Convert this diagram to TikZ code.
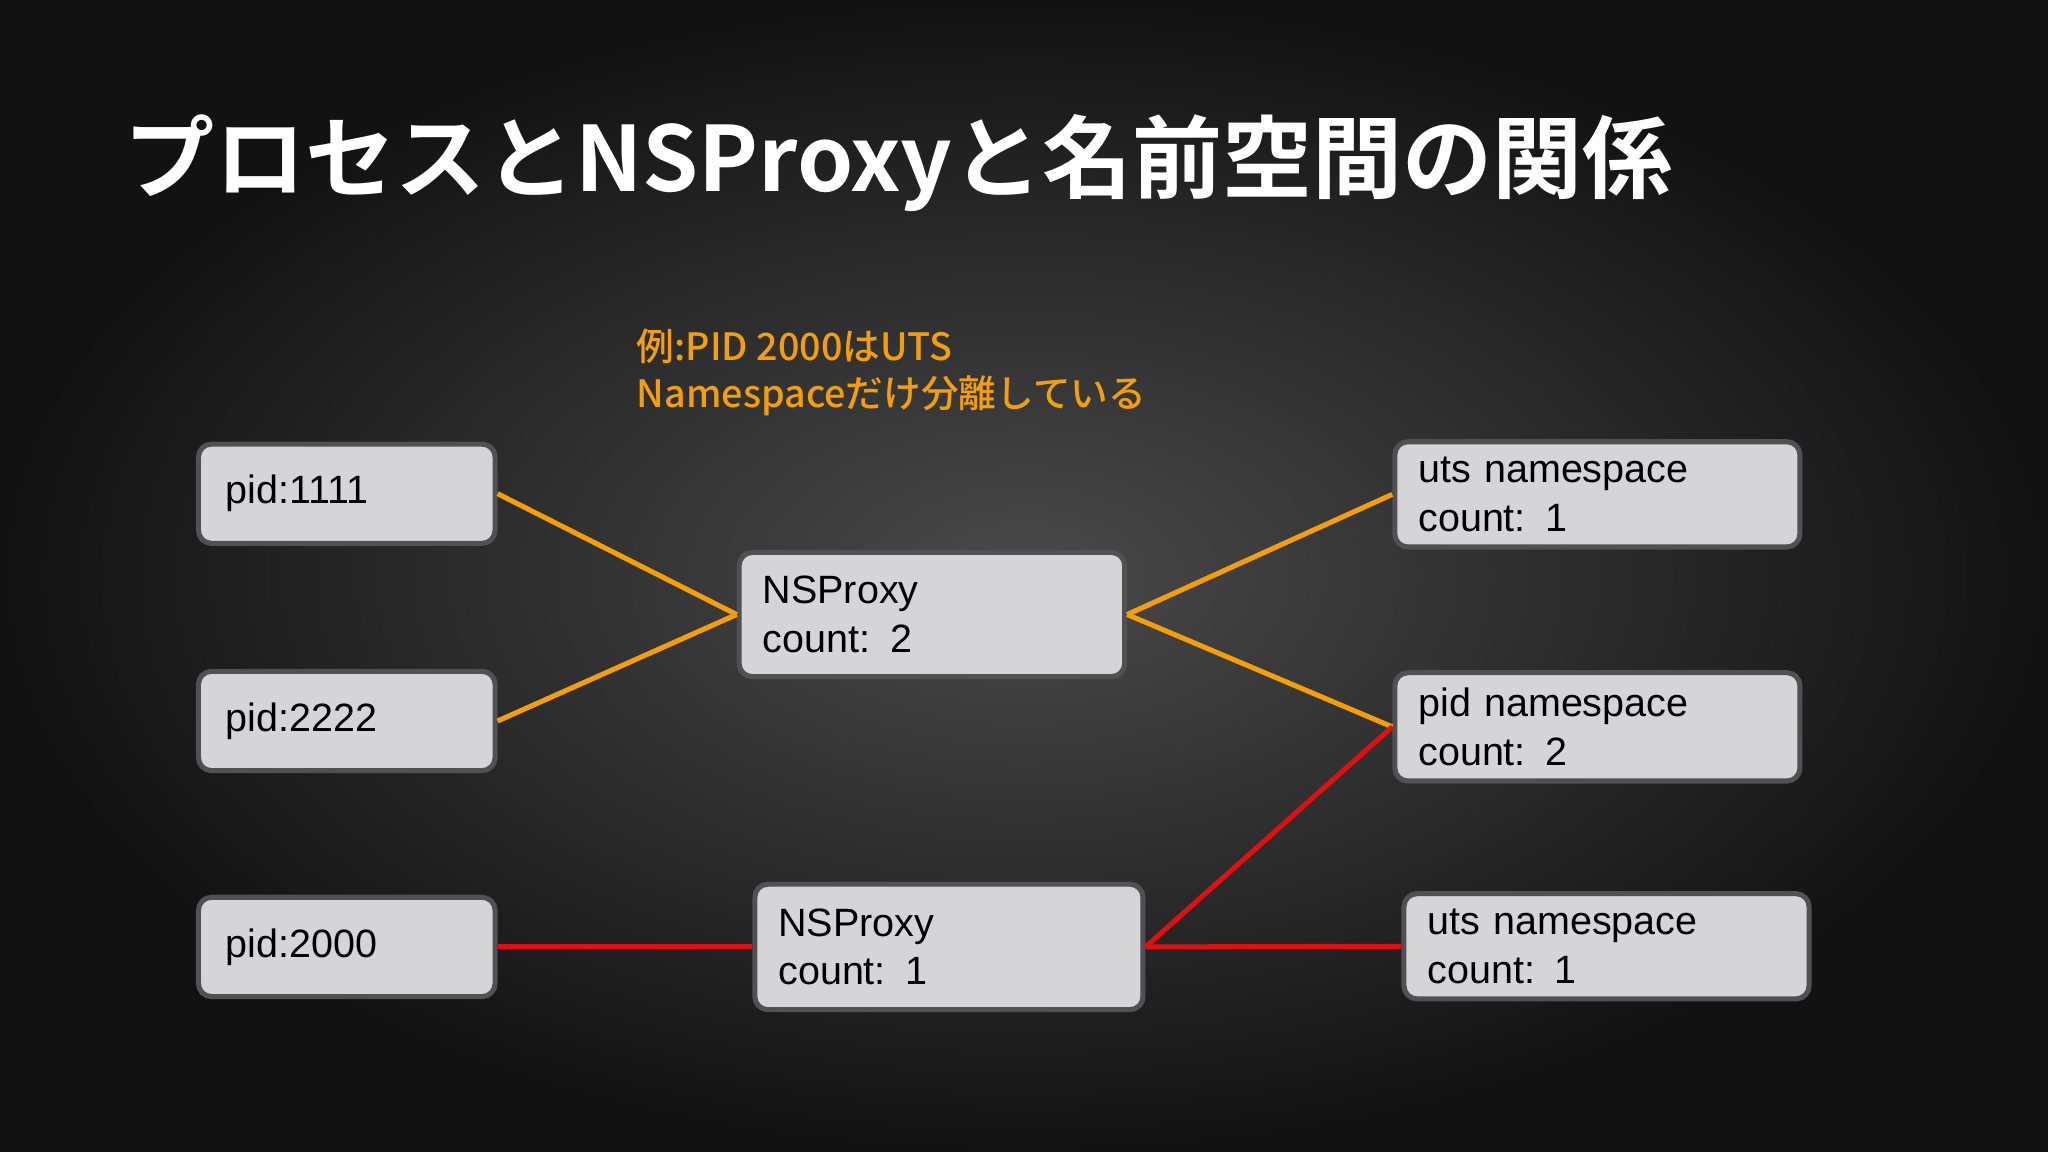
\documentclass[tikz,border=0pt]{standalone}
\usepackage{fontspec}
\setmainfont{Liberation Sans}
\newfontfamily\jp{Noto Sans CJK JP Medium}
\newfontfamily\jpb{Noto Sans CJK JP Bold}
\begin{document}
\begin{tikzpicture}[x=0.01cm,y=-0.01cm]
\definecolor{boxfill}{HTML}{D5D5D7}
\definecolor{boxline}{HTML}{505055}
\definecolor{orng}{HTML}{F59E0B}
\definecolor{rd}{HTML}{E01010}
\definecolor{bgin}{HTML}{4A4A4A}
\definecolor{bgout}{HTML}{121212}
\tikzset{
 box/.style={draw=boxline, line width=1.1pt, fill=boxfill, rounded corners=0.1cm, inner xsep=0.18cm, align=left, font=\fontsize{8.6}{10.6}\selectfont, text=black},
 oline/.style={draw=orng, line width=1.1pt},
 rline/.style={draw=rd, line width=1.1pt}
}
\shade[inner color=bgin, outer color=bgout] (0,0) rectangle (1568,882);
\useasboundingbox (0,0) rectangle (1568,882);
\node[anchor=west, text=white, inner sep=0, font=\jpb\fontsize{19.6}{22}\selectfont] (title) at (95,125) {プロセスとNSProxyと名前空間の関係};
\node[anchor=north west, text=orng, align=left, inner sep=0, font=\jp\fontsize{8.2}{10.3}\selectfont] (note) at (487,251) {例:PID 2000はUTS\\Namespaceだけ分離している};

\node[box, minimum width=2.27cm, minimum height=0.76cm, text width=1.85cm] (p1) at (265.5,378) {pid:1111};
\node[box, minimum width=2.27cm, minimum height=0.76cm, text width=1.85cm] (p2) at (265.5,552) {pid:2222};
\node[box, minimum width=2.27cm, minimum height=0.76cm, text width=1.85cm] (p3) at (265.5,725) {pid:2000};
\node[box, minimum width=2.95cm, minimum height=0.95cm, text width=2.59cm] (n1) at (713.5,470.5) {NSProxy\\count: 2};
\node[box, minimum width=2.97cm, minimum height=0.96cm, text width=2.61cm] (n2) at (726.5,725) {NSProxy\\count: 1};
\node[box, minimum width=3.10cm, minimum height=0.77cm, text width=2.74cm] (u1) at (1223,378.5) {uts namespace\\count: 1};
\node[box, minimum width=3.10cm, minimum height=0.77cm, text width=2.74cm] (pn) at (1223,556.5) {pid namespace\\count: 2};
\node[box, minimum width=3.10cm, minimum height=0.77cm, text width=2.74cm] (u2) at (1230,724.5) {uts namespace\\count: 1};

\draw[oline] (p1.east) -- (n1.west);
\draw[oline] (p2.east) -- (n1.west);
\draw[oline] (n1.east) -- (u1.west);
\draw[oline] (n1.east) -- (pn.west);
\draw[rline] (p3.east) -- (n2.west);
\draw[rline] (n2.east) -- (pn.west);
\draw[rline] (n2.east) -- (u2.west);
\end{tikzpicture}
\end{document}
